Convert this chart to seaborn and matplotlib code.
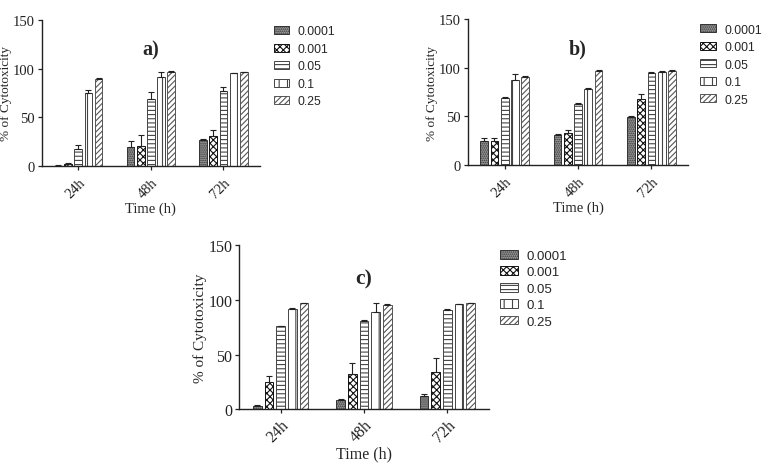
"""Cytotoxicity bar panels a), b), c) recreated with seaborn."""

import matplotlib
matplotlib.use("Agg")
import matplotlib.pyplot as plt
from matplotlib.patches import Patch
import pandas as pd
import seaborn as sns

TIMES = ["24h", "48h", "72h"]
CONCS = ["0.0001", "0.001", "0.05", "0.1", "0.25"]

# mean % cytotoxicity, one row per time point, one column per concentration
A_MEAN = [[0.5, 2, 18, 75, 89], [20, 21, 69, 91, 97], [27, 31, 77, 95, 96]]
A_ERR = [[0.3, 0.8, 4, 3, 1], [6, 11, 7, 6, 0.8], [1, 6, 4, 0.8, 0.8]]

B_MEAN = [[25, 25, 69, 87, 90], [31, 33, 63, 78, 97], [49, 68, 95, 96, 97]]
B_ERR = [[3, 3, 1, 6, 1], [1, 3, 1, 1, 0.5], [1, 5, 0.5, 0.5, 0.5]]

C_MEAN = [[3, 25, 76, 92, 97], [8, 32, 81, 89, 95], [12, 34, 91, 96, 97]]
C_ERR = [[1, 5, 0.5, 0.5, 0.5], [1, 10, 0.5, 8, 1], [2, 13, 0.5, 0.5, 0.5]]

STYLES = [
    dict(facecolor="#9a9a9a", hatch="........", edgecolor="#333333"),
    dict(facecolor="white", hatch="xxxxx", edgecolor="#111111"),
    dict(facecolor="white", hatch="----", edgecolor="#444444"),
    dict(facecolor="white", hatch="||", edgecolor="#444444"),
    dict(facecolor="white", hatch="//////", edgecolor="#555555"),
]

SERIF = ["Liberation Serif", "DejaVu Serif"]
SANS = ["Liberation Sans", "DejaVu Sans"]

sns.set_theme(style="ticks")
plt.rcParams["hatch.linewidth"] = 0.8
plt.rcParams["font.family"] = SERIF


def to_long(means, errs):
    rows = []
    for t, mrow, erow in zip(TIMES, means, errs):
        for c, m, e in zip(CONCS, mrow, erow):
            rows.append({"Time": t, "Conc": c, "Value": m, "Err": e})
    return pd.DataFrame(rows)


def draw_panel(fig, rect, means, errs, label, legend_xy, fs, yfs, lfs,
               lspace, xpad):
    ax = fig.add_axes(rect)
    df = to_long(means, errs)
    sns.barplot(data=df, x="Time", y="Value", hue="Conc", order=TIMES,
                hue_order=CONCS, errorbar=None, width=0.7, gap=0.25,
                legend=False, ax=ax)

    for conc, cont, style in zip(CONCS, ax.containers, STYLES):
        sub = df[df["Conc"] == conc].set_index("Time").loc[TIMES]
        xs = []
        for bar in cont:
            bar.set_facecolor(style["facecolor"])
            bar.set_edgecolor(style["edgecolor"])
            bar.set_hatch(style["hatch"])
            bar.set_linewidth(0.7)
            xs.append(bar.get_x() + bar.get_width() / 2)
        ax.errorbar(xs, sub["Value"], yerr=[[0] * len(xs), sub["Err"]],
                    fmt="none", ecolor="#222222", elinewidth=0.8,
                    capsize=2.5, capthick=0.8)

    ax.set_xlim(-0.5, 2.5)
    ax.set_ylim(0, 150)
    ax.set_yticks([0, 50, 100, 150])
    sns.despine(ax=ax)
    for side in ("left", "bottom"):
        ax.spines[side].set_linewidth(1.0)
        ax.spines[side].set_color("#222222")
    ax.tick_params(axis="both", labelsize=fs, length=3, width=0.9,
                   colors="#222222", pad=2)
    ax.tick_params(axis="x", pad=xpad)
    plt.setp(ax.get_xticklabels(), rotation=45, ha="right",
             rotation_mode="anchor")
    ax.set_xlabel("Time (h)", fontsize=fs, labelpad=1)
    ax.set_ylabel("% of Cytotoxicity", fontsize=yfs, labelpad=1)
    ax.text(0.5, 0.8, label, transform=ax.transAxes, ha="center",
            va="center", fontsize=fs + 4, fontweight="bold")

    handles = [Patch(linewidth=0.7, **s) for s in STYLES]
    ax.legend(handles, CONCS, loc="upper left", bbox_to_anchor=legend_xy,
              bbox_transform=fig.transFigure, frameon=False,
              prop={"family": SANS, "size": lfs}, handlelength=1.3,
              handleheight=0.65, labelspacing=lspace, handletextpad=0.7,
              borderaxespad=0, borderpad=0)
    return ax


def main():
    fig = plt.figure(figsize=(7.64, 4.64), dpi=100)
    draw_panel(fig, [0.055, 0.640, 0.285, 0.315], A_MEAN, A_ERR, "a)",
               (0.358, 0.943), 10.5, 9.5, 8.8, 0.45, 4)
    draw_panel(fig, [0.6126, 0.642, 0.288, 0.315], B_MEAN, B_ERR, "b)",
               (0.916, 0.947), 10.5, 9.5, 8.8, 0.45, 4)
    draw_panel(fig, [0.313, 0.116, 0.327, 0.353], C_MEAN, C_ERR, "c)",
               (0.655, 0.459), 11.5, 11, 9.5, 0.33, 2)
    fig.savefig("out.png", dpi=100)
    plt.close(fig)


if __name__ == "__main__":
    main()
